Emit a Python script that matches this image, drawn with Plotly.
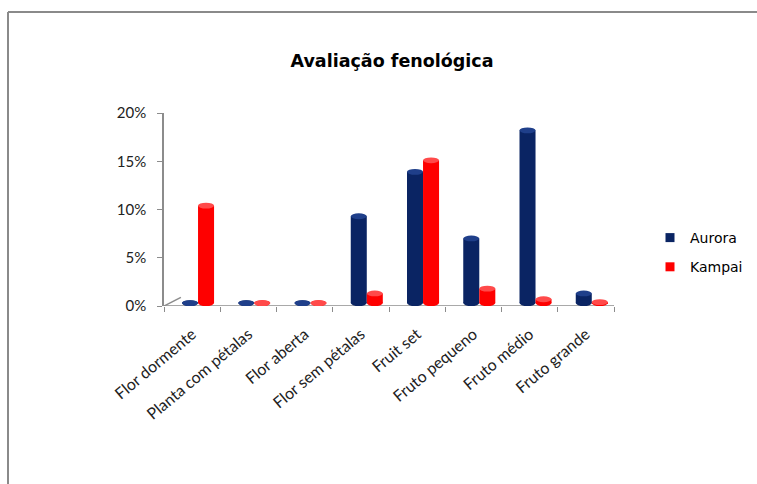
import plotly.graph_objects as go

# Phenological stages and share of observations per cultivar
stages = ["Flor dormente", "Planta com pétalas", "Flor aberta", "Flor sem pétalas",
          "Fruit set", "Fruto pequeno", "Fruto médio", "Fruto grande"]
aurora = [0.0, 0.0, 0.0, 0.090, 0.136, 0.067, 0.179, 0.010]
kampai = [0.101, 0.0, 0.0, 0.010, 0.148, 0.015, 0.004, 0.001]
y_ticks = [0, 0.05, 0.10, 0.15, 0.20]
y_tick_text = ["0%", "5%", "10%", "15%", "20%"]

NAVY = "#0a2463"
NAVY_TOP = "#1f3f8a"
RED = "#fe0000"
RED_TOP = "#ff4a4a"
BAR_W = 0.285
DEPTH = 0.003          # vertical lift that mimics the 3D floor depth
ELL_H = 0.006          # height of the cylinder cap ellipses, in data units
AXIS_GRAY = "#8c8c8c"

L, R, T, B = 164, 143, 113, 178
W, H = 757, 484
PW, PH = W - L - R, H - T - B

series = [
    ("Aurora", aurora, NAVY, NAVY_TOP, -0.18),
    ("Kampai", kampai, RED, RED_TOP, 0.105),
]

fig = go.Figure()
shapes = []
for name, vals, col, top_col, off in series:
    fig.add_trace(go.Bar(
        x=stages, y=vals, base=DEPTH, name=name,
        width=BAR_W, offset=off,
        marker=dict(color=col, line=dict(width=0)),
        showlegend=False,
    ))
    for i, v in enumerate(vals):
        x0 = i + off
        x1 = x0 + BAR_W
        # bottom cap
        shapes.append(dict(type="circle", xref="x", yref="y", layer="above",
                           x0=x0, x1=x1, y0=DEPTH - ELL_H / 2, y1=DEPTH + ELL_H / 2,
                           fillcolor=col, line=dict(width=0)))
        # top cap
        shapes.append(dict(type="circle", xref="x", yref="y", layer="above",
                           x0=x0, x1=x1, y0=DEPTH + v - ELL_H / 2, y1=DEPTH + v + ELL_H / 2,
                           fillcolor=top_col, line=dict(width=0)))

# small square legend keys
for name, vals, col, top_col, off in series:
    fig.add_trace(go.Scatter(
        x=[None], y=[None], mode="markers", name=name, legendgroup=name,
        marker=dict(symbol="square", size=9, color=col),
    ))

n = len(stages)
# floor side edges (perspective depth of the floor)
shapes.append(dict(type="line", xref="x", yref="y", x0=-0.5, y0=0, x1=-0.2, y1=0.009,
                   line=dict(color=AXIS_GRAY, width=1.5), layer="below"))
shapes.append(dict(type="line", xref="x", yref="y", x0=n - 0.5, y0=0, x1=n - 0.25, y1=0.009,
                   line=dict(color=AXIS_GRAY, width=1.5), layer="below"))
shapes.append(dict(type="line", xref="x", yref="y", x0=-0.5, y0=0, x1=n - 0.5, y1=0,
                   line=dict(color=AXIS_GRAY, width=1.5), layer="below"))

# chart frame
frame = dict(color="#8a8a8a", width=2)
fx = (8 - L) / PW
fy = (H - B - 12) / PH
shapes.append(dict(type="line", xref="paper", yref="paper",
                   x0=fx, x1=(W + 5 - L) / PW, y0=fy, y1=fy, line=frame))
shapes.append(dict(type="line", xref="paper", yref="paper",
                   x0=fx, x1=fx, y0=fy, y1=-(B + 5) / PH, line=frame))

fig.update_layout(
    width=W, height=H,
    margin=dict(l=L, r=R, t=T, b=B, autoexpand=False),
    paper_bgcolor="white", plot_bgcolor="white",
    barmode="group",
    title=dict(text="<b>Avaliação fenológica</b>", x=392 / W, xanchor="center",
               y=1 - 61 / H, yanchor="middle",
               font=dict(family="DejaVu Sans", size=17.5, color="#000")),
    showlegend=True,
    legend=dict(x=(650 - L) / PW, y=(H - B - 222) / PH, xanchor="left", yanchor="top",
                font=dict(family="DejaVu Sans", size=14, color="#000"),
                bgcolor="rgba(0,0,0,0)", tracegroupgap=8, itemwidth=30),
    shapes=shapes,
    xaxis=dict(
        type="category", range=[-0.5, n - 0.5],
        tickangle=-40, tickson="boundaries",
        ticks="outside", ticklen=5, tickcolor=AXIS_GRAY,
        ticklabelstandoff=15,
        showline=False, showgrid=False, zeroline=False,
        tickfont=dict(family="Lato, Open Sans", size=16, color="#222"),
    ),
    yaxis=dict(
        range=[0, 0.2], tickvals=y_ticks, ticktext=y_tick_text,
        ticks="outside", ticklen=5, tickcolor=AXIS_GRAY,
        ticklabelstandoff=8,
        showline=True, linecolor=AXIS_GRAY, linewidth=1.5,
        showgrid=False, zeroline=False,
        tickfont=dict(family="Lato, Open Sans", size=15, color="#222"),
    ),
)

fig.write_html("out.html")
